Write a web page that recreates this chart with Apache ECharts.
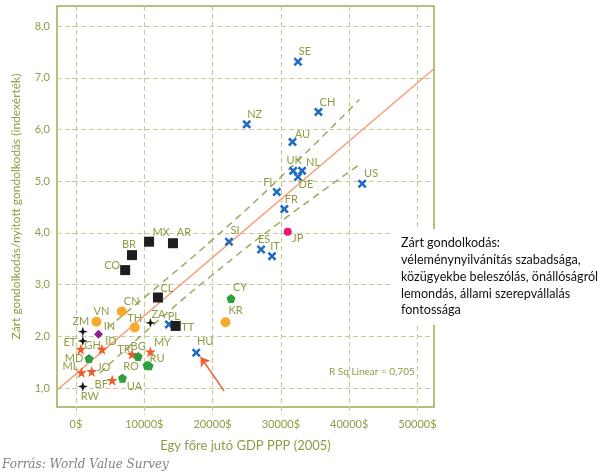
<!DOCTYPE html>
<html><head><meta charset="utf-8">
<script src="https://cdn.jsdelivr.net/npm/echarts@6/dist/echarts.min.js"></script>
<style>html,body{margin:0;padding:0;background:#fff}#c{width:607px;height:474px}</style>
</head><body><div id="c"></div>
<script>
// ---- data ----
const xTicks = [0, 10000, 20000, 30000, 40000, 50000];
const yTicks = [1, 2, 3, 4, 5, 6, 7, 8];

const blueCountries = [
  ['SE', 32500, 7.31], ['CH', 35500, 6.34], ['NZ', 25000, 6.10], ['AU', 31700, 5.76],
  ['UK', 31800, 5.20], ['NL', 33100, 5.20], ['DE', 32500, 5.08], ['US', 41900, 4.95],
  ['FI', 29400, 4.79], ['FR', 30500, 4.46], ['SI', 22400, 3.83], ['ES', 27100, 3.68],
  ['IT', 28700, 3.55], ['PL', 13600, 2.23], ['HU', 17600, 1.68]
];
const pinkCountries = [['JP', 31000, 4.02]];
const squareCountries = [
  ['MX', 10700, 3.83], ['AR', 14200, 3.80], ['BR', 8200, 3.57], ['CO', 7200, 3.28],
  ['CL', 12000, 2.75], ['TT', 14600, 2.20]
];
const sparkleCountries = [['ZA', 10900, 2.26], ['ZM', 1000, 2.09], ['ET', 1000, 1.91], ['RW', 1000, 1.03]];
const circleCountries = [['VN', 3000, 2.28], ['CN', 6700, 2.48], ['TH', 8600, 2.17], ['KR', 21900, 2.27]];
const diamondCountries = [['IN', 3300, 2.04]];
const starCountries = [
  ['GH', 700, 1.75], ['ID', 3800, 1.75], ['ML', 800, 1.30], ['JO', 2300, 1.32],
  ['BF', 5300, 1.15], ['TR', 8200, 1.65], ['MY', 10900, 1.70]
];
const pentagonCountries = [
  ['MD', 1900, 1.57], ['BG', 9100, 1.61], ['RO', 10400, 1.44], ['RU', 10700, 1.43],
  ['UA', 6800, 1.19], ['CY', 22700, 2.73]
];
const trendLine = [[-2780, 0.959], [52420, 7.175]];
const upperBand = [[4600, 2.16], [12000, 2.97], [20000, 3.87], [30000, 5.08], [41500, 6.58]];
const lowerBand = [[3500, 1.29], [12000, 2.30], [20000, 3.19], [30000, 4.22], [41500, 5.32]];
const arrowLine = [[21700, 0.94], [18250, 1.60]];
const rSquared = 'R Sq Linear = 0,705';
const noteLines = ['Zárt gondolkodás:', 'véleménynyilvánítás szabadsága,', 'közügyekbe beleszólás, önállóságról', 'lemondás, állami szerepvállalás', 'fontossága'];

// ---- label offsets (style) ----
const labelOffsets = {
  SE:[7,-10], CH:[9,-9], NZ:[8,-10], AU:[10,-7], UK:[1,-10], NL:[11,-8], DE:[8,7], US:[9,-10],
  FI:[-9,-10], FR:[7,-10], SI:[6,-11], ES:[3,-10], IT:[3,-10], JP:[10,7], HU:[9,-11], PL:[5,-8],
  CY:[9,-11], KR:[10,-12], MX:[12,-9], AR:[11,-11], BR:[-3,-11], CO:[-13,-5], CL:[9,-9], TT:[12,2],
  ZA:[8,-8], ZM:[-2,-10], ET:[-13,2], RW:[7,10], VN:[5,-10], CN:[10,-10], TH:[0,-9], IN:[11,-8],
  GH:[12,-4], ID:[9,-8], ML:[-11,-6], JO:[12,-4], BF:[-11,4], TR:[-8,-5], MY:[12,-9],
  MD:[-15,0], BG:[0,-10], RU:[8,-7], RO:[-16,1], UA:[12,8]
};

const OLIVE = '#8f9c44';
const GRID = '#c8cc9a';
const FONT = 'Lato';

const SYM_X = 'path://M2,0 L5,3 L8,0 L10,2 L7,5 L10,8 L8,10 L5,7 L2,10 L0,8 L3,5 L0,2 Z';
const SYM_SPARKLE = 'path://M5,0 L6.2,3.8 L10,5 L6.2,6.2 L5,10 L3.8,6.2 L0,5 L3.8,3.8 Z';
const SYM_STAR = 'path://M5,0 L6.2,3.6 L10,3.6 L6.9,5.9 L8.1,9.5 L5,7.3 L1.9,9.5 L3.1,5.9 L0,3.6 L3.8,3.6 Z';
const SYM_PENT = 'path://M5,0 L10,3.8 L8.1,10 L1.9,10 L0,3.8 Z';

function scatter(name, rows, symbol, size, color) {
  return {
    name, type: 'scatter', symbol, symbolSize: size, z: 5,
    itemStyle: { color, opacity: 1 },
    data: rows.map(r => ({
      name: r[0], value: [r[1], r[2]],
      label: { show: true, position: 'inside', offset: labelOffsets[r[0]] || [0, -10],
               formatter: r[0], color: OLIVE, fontSize: 11, fontFamily: FONT }
    }))
  };
}

const chart = echarts.init(document.getElementById('c'), null, { renderer: 'canvas' });
chart.setOption({
  animation: false,
  backgroundColor: '#fff',
  grid: { left: 57, top: 6, width: 377, height: 401, show: true, borderColor: '#9dac50', borderWidth: 1.5, backgroundColor: 'transparent' },
  xAxis: {
    type: 'value', min: -2780, max: 52420,
    name: 'Egy főre jutó GDP PPP (2005)', nameLocation: 'middle', nameGap: 32,
    nameTextStyle: { color: OLIVE, fontSize: 13, fontFamily: FONT },
    axisLine: { show: false },
    axisTick: { show: true, customValues: xTicks, length: 8, lineStyle: { color: GRID, type: [4, 3], width: 1.2 } },
    axisLabel: { customValues: xTicks, formatter: v => v + '$', color: OLIVE, fontSize: 11, fontFamily: FONT, margin: 12 },
    splitLine: { show: true, lineStyle: { color: GRID, type: [5, 3], width: 1.2 } }
  },
  yAxis: {
    type: 'value', min: 0.632, max: 8.389,
    name: 'Zárt gondolkodás/nyitott gondolkodás (indexérték)', nameLocation: 'middle', nameGap: 35, nameRotate: 90,
    nameTextStyle: { color: OLIVE, fontSize: 12, fontFamily: FONT },
    axisLine: { show: false },
    axisTick: { show: true, customValues: yTicks, length: 4, lineStyle: { color: GRID, type: [4, 3], width: 1.2 } },
    axisLabel: { customValues: yTicks, formatter: v => v.toFixed(1).replace('.', ','), color: OLIVE, fontSize: 11, fontFamily: FONT, margin: 7 },
    splitLine: { show: true, lineStyle: { color: GRID, type: [5, 3], width: 1.2 } }
  },
  series: [
    { type: 'line', data: upperBand, smooth: true, symbol: 'none', z: 3,
      lineStyle: { color: '#9aab5c', width: 1.5, type: [7, 5] } },
    { type: 'line', data: lowerBand, smooth: true, symbol: 'none', z: 3,
      lineStyle: { color: '#9aab5c', width: 1.5, type: [7, 5] } },
    { type: 'line', data: trendLine, symbol: 'none', z: 3,
      lineStyle: { color: '#f5a07c', width: 1.5 } },
    { type: 'lines', coordinateSystem: 'cartesian2d', z: 4,
      symbol: ['none', 'arrow'], symbolSize: 9,
      lineStyle: { color: '#ee5f35', width: 1.5, opacity: 1 },
      data: [{ coords: arrowLine }] },
    scatter('blue', blueCountries, SYM_X, 9, '#1f6cc2'),
    scatter('pink', pinkCountries, 'circle', 8, '#e8196e'),
    scatter('square', squareCountries, 'rect', 10, '#1e1e1e'),
    scatter('sparkle', sparkleCountries, SYM_SPARKLE, 10, '#151515'),
    scatter('circle', circleCountries, 'circle', 10, '#f7a92c'),
    scatter('diamond', diamondCountries, 'diamond', 9, '#8e1d8c'),
    scatter('star', starCountries, SYM_STAR, 11, '#f05a28'),
    scatter('pentagon', pentagonCountries, SYM_PENT, 9, '#2f9e3f')
  ],
  graphic: [
    { type: 'rect', z: 100, shape: { x: 392, y: 229, width: 215, height: 96 }, style: { fill: '#fff' } },
    { type: 'text', z: 101, style: { x: 401, y: 235, text: noteLines.join('\n'), font: '12.6px ' + FONT, lineHeight: 16.7, fill: '#111' } },
    { type: 'text', z: 101, style: { x: 329, y: 367, text: rSquared, font: '10px ' + FONT, fill: OLIVE } },
    { type: 'text', z: 101, style: { x: 2, y: 459, text: 'Forrás: World Value Survey', font: 'italic 12px "DejaVu Serif"', fill: '#808080' } }
  ]
});
</script>
</body></html>
